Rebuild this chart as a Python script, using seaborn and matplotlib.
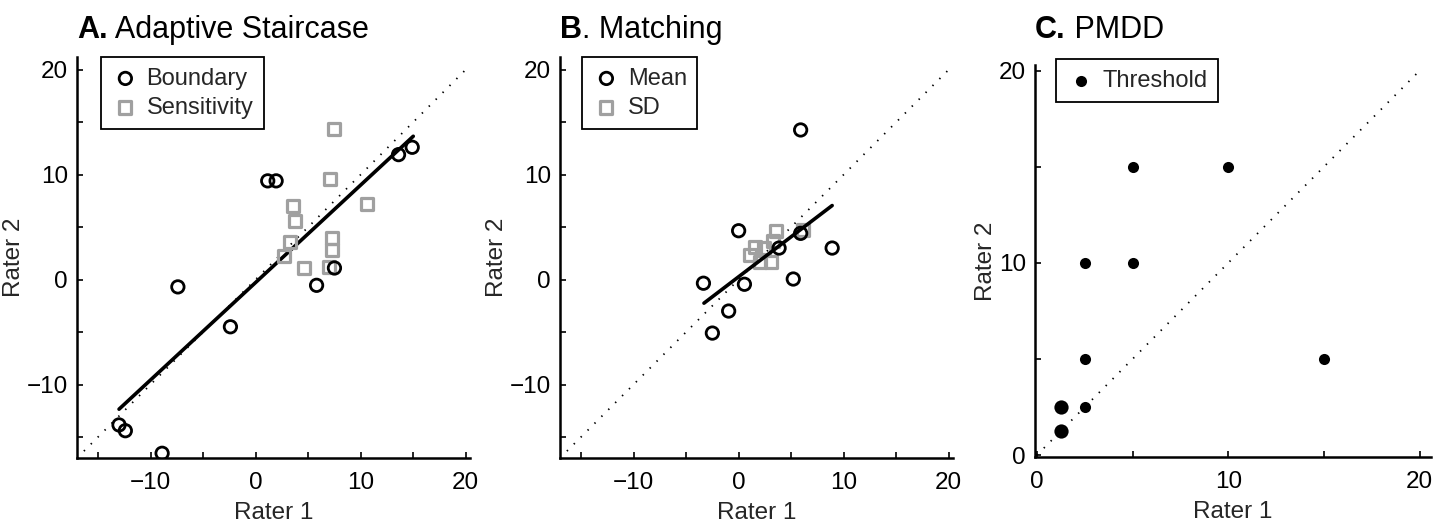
import matplotlib
matplotlib.use("Agg")
import matplotlib.pyplot as plt
from matplotlib.ticker import MultipleLocator
import seaborn as sns

# Panel A: Adaptive Staircase
boundary_x = [-13.0, -12.4, -8.9, -7.4, -2.4, 1.15, 1.95, 5.8, 7.5, 13.6, 14.9]
boundary_y = [-13.85, -14.4, -16.55, -0.7, -4.5, 9.4, 9.4, -0.55, 1.1, 11.9, 12.6]
sens_x = [7.5, 7.1, 10.6, 3.6, 3.75, 3.3, 2.7, 4.6, 7.25, 7.25, 7.0]
sens_y = [14.3, 9.55, 7.2, 7.05, 5.55, 3.55, 2.2, 1.1, 4.0, 2.8, 1.2]
fit_a_x = [-13.0, 15.0]
fit_a_y = [-12.35, 13.65]

# Panel B: Matching
mean_x = [5.9, 0.0, 3.85, 5.9, 8.9, -3.35, 0.55, 5.2, -0.95, -2.5]
mean_y = [14.25, 4.65, 3.0, 4.4, 3.0, -0.35, -0.45, 0.05, -3.0, -5.1]
sd_x = [1.1, 1.6, 2.4, 2.0, 3.1, 3.3, 3.6, 6.1]
sd_y = [2.3, 3.1, 3.0, 1.7, 1.7, 3.7, 4.6, 4.75]
fit_b_x = [-3.3, 8.9]
fit_b_y = [-2.25, 7.05]

# Panel C: PMDD
thr_x = [5, 10, 2.5, 5, 2.5, 15, 2.5]
thr_y = [15, 15, 10, 10, 5, 5, 2.5]
thr2_x = [1.25, 1.25]   # overlapping raters (larger dots)
thr2_y = [2.5, 1.25]

diag_ab = [-17, 20]
diag_c = [0, 20]

sns.set_theme(style="ticks")
plt.rcParams['font.family'] = ['Liberation Sans', 'DejaVu Sans']

W, H = 1443, 527
fig = plt.figure(figsize=(W / 100, H / 100), dpi=100)
axA = fig.add_axes([77 / W, 1 - 458 / H, 393 / W, 401 / H])
axB = fig.add_axes([560 / W, 1 - 458 / H, 393 / W, 401 / H])
axC = fig.add_axes([1035 / W, 1 - 457 / H, 396 / W, 392 / H])

gray = '#a0a0a0'
dots = (0, (0.8, 4.6))

# A
sns.lineplot(x=diag_ab, y=diag_ab, ax=axA, color='black', lw=1.3, linestyle=dots)
sns.lineplot(x=fit_a_x, y=fit_a_y, ax=axA, color='black', lw=2.6)
sns.scatterplot(x=boundary_x, y=boundary_y, ax=axA, marker='o', s=80, facecolor='none',
                edgecolor='black', linewidth=2.0, label='Boundary', zorder=3)
sns.scatterplot(x=sens_x, y=sens_y, ax=axA, marker='s', s=75, facecolor='none',
                edgecolor=gray, linewidth=2.3, label='Sensitivity', zorder=2)

# B
sns.lineplot(x=diag_ab, y=diag_ab, ax=axB, color='black', lw=1.3, linestyle=dots)
sns.scatterplot(x=sd_x, y=sd_y, ax=axB, marker='s', s=75, facecolor='none',
                edgecolor=gray, linewidth=2.3, zorder=2)
sns.lineplot(x=fit_b_x, y=fit_b_y, ax=axB, color='black', lw=2.6)
sns.scatterplot(x=mean_x, y=mean_y, ax=axB, marker='o', s=80, facecolor='none',
                edgecolor='black', linewidth=2.0, label='Mean', zorder=3)
axB.scatter([], [], marker='s', s=75, facecolor='none', edgecolor=gray, linewidth=2.3, label='SD')

# C
sns.lineplot(x=diag_c, y=diag_c, ax=axC, color='black', lw=1.3, linestyle=dots)
sns.scatterplot(x=thr_x, y=thr_y, ax=axC, marker='o', s=64, color='black',
                edgecolor='black', linewidth=0, label='Threshold', zorder=3)
sns.scatterplot(x=thr2_x, y=thr2_y, ax=axC, marker='o', s=105, color='black',
                edgecolor='black', linewidth=0, zorder=3)

for ax in (axA, axB):
    ax.set_xlim(-17, 20.4)
    ax.set_ylim(-17, 21.2)
for ax in (axA, axB, axC):
    ax.xaxis.set_major_locator(MultipleLocator(10))
    ax.xaxis.set_minor_locator(MultipleLocator(5))
    ax.yaxis.set_major_locator(MultipleLocator(10))
    ax.yaxis.set_minor_locator(MultipleLocator(5))
axC.set_xlim(-0.1, 20.6)
axC.set_ylim(-0.1, 20.3)

legend_pos = {axA: (0.06, 1.0), axB: (0.055, 1.0), axC: (0.053, 1.015)}
for ax in (axA, axB, axC):
    sns.despine(ax=ax)
    for side in ('left', 'bottom'):
        ax.spines[side].set_linewidth(1.8)
        ax.spines[side].set_color('black')
    ax.tick_params(which='both', direction='in', length=4, width=1.2, color='black',
                   labelsize=17.5, labelcolor='black')
    ax.tick_params(axis='x', pad=10)
    ax.tick_params(axis='y', pad=6.5)
    ax.set_xlabel('Rater 1', fontsize=17.5, labelpad=6)
    ax.set_ylabel('Rater 2', fontsize=17.5, labelpad=1)
    leg = ax.legend(loc='upper left', bbox_to_anchor=legend_pos[ax], borderaxespad=0,
                    fontsize=17, frameon=True, fancybox=False, framealpha=1,
                    edgecolor='black', handletextpad=0.3, borderpad=0.45,
                    labelspacing=0.3, handlelength=1.2)
    leg.get_frame().set_linewidth(1.3)

# panel titles: bold letter, then plain text right after it
titles = [(axA, "A.", " Adaptive Staircase"),
          (axB, "B", ". Matching"),
          (axC, "C.", " PMDD")]
renderer = fig.canvas.get_renderer()
for ax, bold, rest in titles:
    x0 = ax.get_position().x0
    tb = fig.text(x0, 1 - 38 / H, bold, fontsize=22, fontweight='bold',
                  ha='left', va='baseline', color='black')
    x1 = tb.get_window_extent(renderer).x1 / W
    fig.text(x1, 1 - 38 / H, rest, fontsize=22, ha='left', va='baseline', color='black')

fig.savefig('out.png', dpi=100)
